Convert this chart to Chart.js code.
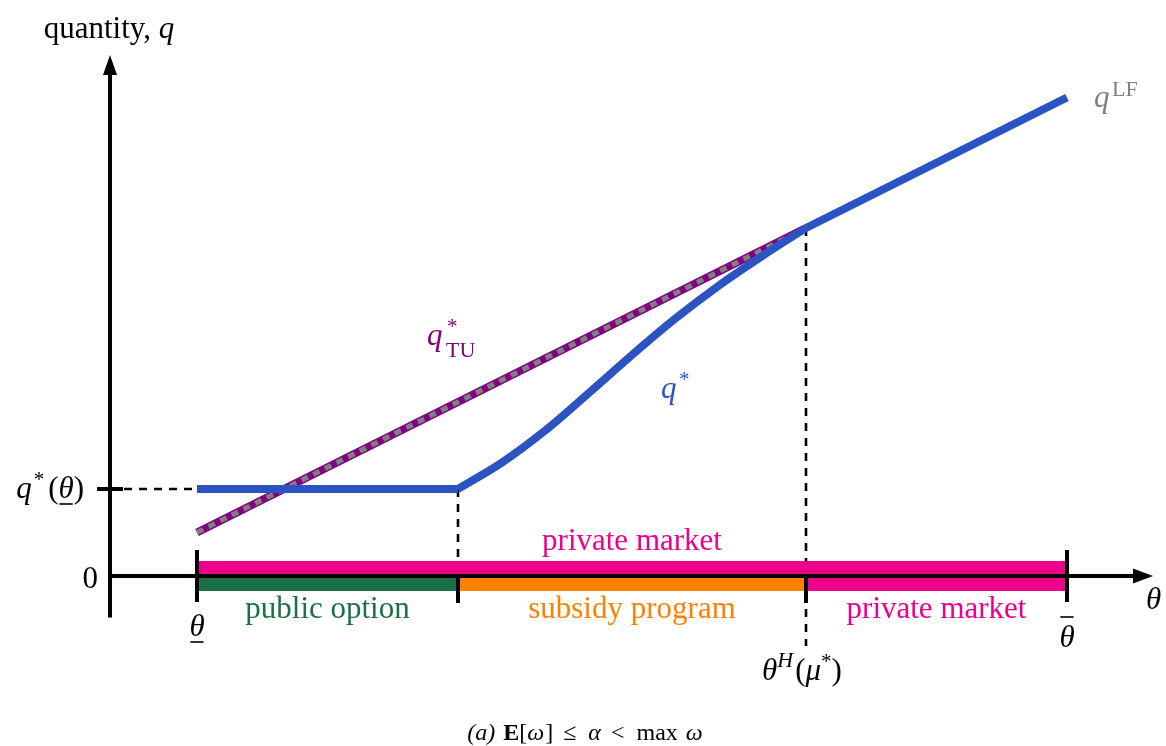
<!DOCTYPE html>
<html><head><meta charset="utf-8">
<script src="https://cdn.jsdelivr.net/npm/chart.js@4/dist/chart.umd.min.js"></script>
<style>html,body{margin:0;padding:0;background:#fff}</style>
</head><body>
<canvas id="c" width="1166" height="746" style="display:block"></canvas>
<script>
// ---- data (theta on x, quantity q on y) ----
const regionBreaks = [0, 3, 7, 10];               // theta_low, public->subsidy, theta^H(mu*), theta_bar
const regionNames  = ['public option', 'subsidy program', 'private market'];
const topBandName  = 'private market';
const lfTheta = [0, 10];   const lfQ = [0.5, 5.5];        // q^LF
const tuTheta = [0, 7];    const tuQ = [0.5, 4.0];        // q*_TU
const qFlatTheta = [0, 3]; const qFlatQ = [1.0, 1.0];     // q* flat part
const qCurveTheta = [3, 3.5, 4, 4.5, 5, 5.5, 6, 6.5, 7];
const qCurveQ     = [1.0, 1.30, 1.67, 2.10, 2.54, 2.96, 3.34, 3.68, 4.0];
const qUpperTheta = [7, 10]; const qUpperQ = [4.0, 5.5];
const qLowLevel = 1.0;
const yTickLabels = ['0', 'q*(θ)'];

const COL = {blue:'#2B54C2', purple:'#800080', gray:'#808080', pink:'#EC008C', green:'#1B7046', orange:'#FF8000'};
const BASE = '"Liberation Serif","Times New Roman",serif';
function fnt(s, z){ return (s==='i'?'italic ':s==='b'?'bold ':'') + z + 'px ' + BASE; }
function pts(xs, ys){ return xs.map((x,i)=>({x:x, y:ys[i]})); }

function rich(ctx, parts, x, y, align, color){
  let w = 0;
  parts.forEach(p=>{ ctx.font = fnt(p.s||'n', p.z||31); p.w = ctx.measureText(p.t).width + (p.kx||0); w += p.w; });
  let cx = align==='center' ? x - w/2 : align==='right' ? x - w : x;
  ctx.textAlign = 'left'; ctx.textBaseline = 'alphabetic';
  parts.forEach(p=>{
    ctx.font = fnt(p.s||'n', p.z||31);
    ctx.fillStyle = p.c || color;
    ctx.fillText(p.t, cx + (p.ox||0), y + (p.dy||0));
    if (p.ul || p.ol){
      ctx.save(); ctx.strokeStyle = p.c || color; ctx.lineWidth = 1.6;
      const yy = p.ul ? y + p.ul : y - p.ol;
      ctx.beginPath(); ctx.moveTo(cx + 1, yy); ctx.lineTo(cx + p.w - 1, yy); ctx.stroke(); ctx.restore();
    }
    cx += p.w;
  });
}

const decor = {
  id: 'decor',
  beforeDatasetsDraw(chart){
    const ctx = chart.ctx, X = chart.scales.x, Y = chart.scales.y;
    const y0 = Y.getPixelForValue(0);
    const xL = X.getPixelForValue(X.min);
    ctx.save();
    const b = regionBreaks.map(v=>X.getPixelForValue(v));
    ctx.fillStyle = COL.pink; ctx.fillRect(b[0], y0-15, b[3]-b[0], 13);
    const cols = [COL.green, COL.orange, COL.pink];
    for (let i=0;i<3;i++){ ctx.fillStyle = cols[i]; ctx.fillRect(b[i], y0+2, b[i+1]-b[i], 13); }
    ctx.strokeStyle = '#000'; ctx.lineWidth = 2.6; ctx.setLineDash([8,7]);
    const yq = Y.getPixelForValue(qLowLevel);
    ctx.beginPath(); ctx.moveTo(xL+14, yq); ctx.lineTo(b[0], yq); ctx.stroke();
    ctx.beginPath(); ctx.moveTo(b[1], yq); ctx.lineTo(b[1], y0-15); ctx.stroke();
    const yH = Y.getPixelForValue(qCurveQ[qCurveQ.length-1]);
    ctx.beginPath(); ctx.moveTo(b[2], yH); ctx.lineTo(b[2], y0-15); ctx.stroke();
    ctx.beginPath(); ctx.moveTo(b[2], y0+33); ctx.lineTo(b[2], y0+70); ctx.stroke();
    ctx.setLineDash([]);
    ctx.lineWidth = 4;
    ctx.beginPath(); ctx.moveTo(xL, Y.getPixelForValue(Y.min)-2); ctx.lineTo(xL, 72); ctx.stroke();
    ctx.beginPath(); ctx.moveTo(xL-2, y0); ctx.lineTo(1136, y0); ctx.stroke();
    ctx.fillStyle = '#000';
    ctx.beginPath(); ctx.moveTo(xL, 55); ctx.lineTo(xL-7, 75); ctx.lineTo(xL+7, 75); ctx.closePath(); ctx.fill();
    ctx.beginPath(); ctx.moveTo(1153, y0); ctx.lineTo(1133, y0-7.5); ctx.lineTo(1133, y0+7.5); ctx.closePath(); ctx.fill();
    ctx.beginPath(); ctx.moveTo(xL-13, yq); ctx.lineTo(xL+13, yq); ctx.stroke();
    [0,3].forEach(i=>{ ctx.beginPath(); ctx.moveTo(b[i], y0-26); ctx.lineTo(b[i], y0+26); ctx.stroke(); });
    [1,2].forEach(i=>{ ctx.beginPath(); ctx.moveTo(b[i], y0); ctx.lineTo(b[i], y0+27); ctx.stroke(); });
    ctx.restore();
  },
  afterDraw(chart){
    const ctx = chart.ctx, X = chart.scales.x, Y = chart.scales.y;
    const y0 = Y.getPixelForValue(0);
    const b = regionBreaks.map(v=>X.getPixelForValue(v));
    const xL = X.getPixelForValue(X.min);
    ctx.save();
    rich(ctx, [{t:'quantity, '},{t:'q',s:'i'}], xL-1, 38, 'center', '#000');
    rich(ctx, [{t:yTickLabels[0]}], xL-12, y0+12, 'right', '#000');
    const yq = Y.getPixelForValue(qLowLevel);
    rich(ctx, [{t:'q',s:'i',kx:2},{t:'*',z:21,dy:-12,kx:4},{t:'('},{t:'θ',s:'i',ul:6},{t:')'}], xL-26, yq+9, 'right', '#000');
    rich(ctx, [{t:'θ',s:'i',ul:6}], b[0], y0+60, 'center', '#000');
    rich(ctx, [{t:'θ',s:'i',ol:30}], b[3], y0+71, 'center', '#000');
    rich(ctx, [{t:'θ',s:'i'}], 1146, y0+33, 'left', '#000');
    rich(ctx, [{t:'θ',s:'i'},{t:'H',s:'i',z:22,dy:-13,kx:2},{t:'('},{t:'μ',s:'i'},{t:'*',z:21,dy:-12},{t:')'}], b[2]-4, y0+104, 'center', '#000');
    const cols = [COL.green, COL.orange, COL.pink];
    for (let i=0;i<3;i++) rich(ctx, [{t:regionNames[i]}], (b[i]+b[i+1])/2, y0+42, 'center', cols[i]);
    rich(ctx, [{t:topBandName}], (b[0]+b[3])/2, y0-26, 'center', COL.pink);
    ctx.textAlign='left'; ctx.textBaseline='alphabetic';
    ctx.font = fnt('i',31); ctx.fillStyle = COL.purple; ctx.fillText('q', 427, 345);
    ctx.font = fnt('n',21); ctx.fillText('*', 447, 333);
    ctx.font = fnt('n',22); ctx.fillText('TU', 446, 357);
    ctx.font = fnt('i',31); ctx.fillStyle = COL.blue; ctx.fillText('q', 661, 398);
    ctx.font = fnt('n',21); ctx.fillText('*', 679, 386);
    ctx.font = fnt('i',31); ctx.fillStyle = COL.gray; ctx.fillText('q', 1094, 107);
    ctx.font = fnt('n',22); ctx.fillText('LF', 1112, 96);
    // caption: (a) E[ω] ≤ α < max ω
    const cz = 24;
    rich(ctx, [
      {t:'(a)',s:'i',z:cz,kx:8},{t:'E',s:'b',z:cz},{t:'[',z:cz},{t:'ω',s:'i',z:cz,kx:1},{t:']',z:cz,kx:10},
      {t:'≤',z:cz,kx:12},{t:'α',s:'i',z:cz,kx:10},{t:'<',z:cz,kx:12},{t:'max',z:cz,kx:8},{t:'ω',s:'i',z:cz}
    ], 585, 740, 'center', '#000');
    ctx.restore();
  }
};

const common = {pointRadius:0, pointHoverRadius:0, fill:false, borderCapStyle:'butt', borderJoinStyle:'round'};
new Chart(document.getElementById('c'), {
  type: 'line',
  data: { datasets: [
    Object.assign({label:'q_TU', data: pts(tuTheta, tuQ), borderColor: COL.purple, borderWidth: 8, order: 5}, common),
    Object.assign({label:'q_LF', data: pts(lfTheta, lfQ), borderColor: COL.gray, borderWidth: 5, borderDash:[7,6], order: 4}, common),
    Object.assign({label:'q_flat', data: pts(qFlatTheta, qFlatQ), borderColor: COL.blue, borderWidth: 8, order: 1}, common),
    Object.assign({label:'q_curve', data: pts(qCurveTheta, qCurveQ), borderColor: COL.blue, borderWidth: 8, cubicInterpolationMode:'monotone', order: 1}, common),
    Object.assign({label:'q_upper', data: pts(qUpperTheta, qUpperQ), borderColor: COL.blue, borderWidth: 8, order: 1}, common)
  ]},
  options: {
    responsive: false, animation: false, events: [],
    layout: { padding: {left:110, right:12, top:54, bottom:126.5} },
    scales: {
      x: { type:'linear', min:-1, max:11, display:false },
      y: { type:'linear', min:-0.5, max:6, display:false }
    },
    plugins: { legend:{display:false}, tooltip:{enabled:false} }
  },
  plugins: [decor]
});
</script>
</body></html>
